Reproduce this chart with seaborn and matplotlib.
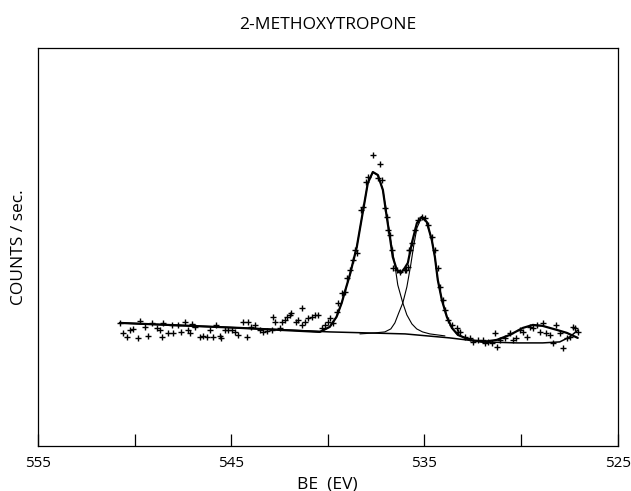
import numpy as np
import pandas as pd
import seaborn as sns
import matplotlib
matplotlib.use("Agg")
import matplotlib.pyplot as plt

# measured points (binding energy in eV, counts in arbitrary units)
data_be = [
    550.76, 550.59, 550.41, 550.24, 550.07, 549.81, 549.72, 549.46, 549.29, 549.12,
    548.86, 548.69, 548.60, 548.52, 548.26, 548.00, 548.08, 547.74, 547.57, 547.40,
    547.22, 547.14, 547.05, 546.88, 546.62, 546.45, 546.27, 546.10, 545.93, 545.76,
    545.59, 545.50, 545.33, 545.16, 544.98, 544.81, 544.64,
    544.38, 544.12, 544.20, 543.95, 543.77, 543.52, 543.35, 543.17, 542.91, 542.83,
    542.74, 542.48, 542.39, 542.22, 542.13, 541.96, 541.88, 541.62, 541.53, 541.36,
    541.36, 541.19, 541.02, 540.84, 540.67, 540.50, 540.32, 540.15, 539.98, 539.90,
    539.72, 539.55, 539.47, 539.29, 539.12, 539.03, 538.86, 538.69, 538.51,
    538.60, 538.26, 538.17, 538.00, 537.91, 537.65, 537.31, 537.40, 537.22, 537.05,
    536.96, 536.88, 536.79, 536.70, 536.62, 536.44, 536.27, 536.02, 535.84, 535.79,
    535.93, 535.76, 535.67, 535.50, 535.33, 535.15, 534.98, 534.81, 534.63, 534.46,
    534.29, 534.20, 534.03, 533.95, 533.78, 533.60, 533.34, 533.26,
    533.17, 532.91, 532.65, 532.48, 532.22, 531.96, 531.88, 531.71, 531.53, 531.36,
    531.27, 531.10, 530.84, 530.58, 530.41, 530.24, 530.07, 529.90, 529.72, 529.55,
    529.38, 529.20, 529.03, 528.86, 528.69, 528.51, 528.34, 528.17, 528.00, 527.83,
    527.65, 527.48, 527.31, 527.22, 527.05,
]
data_counts = [
    122.7, 112.7, 109.3, 116.0, 116.7, 107.7, 125.3, 119.3, 110.0, 122.7,
    117.7, 116.0, 109.3, 123.3, 113.3, 113.3, 121.0, 121.0, 114.3, 123.7,
    116.0, 112.7, 121.7, 119.3, 109.3, 110.0, 109.3, 116.0, 109.3, 121.0,
    110.0, 107.7, 116.0, 116.0, 116.0, 114.3, 111.0,
    124.3, 124.3, 109.3, 119.3, 121.0, 116.0, 114.3, 115.3, 116.0, 129.3,
    124.3, 117.7, 124.3, 126.0, 129.3, 131.0, 132.7, 124.3, 126.0, 137.7,
    121.0, 124.3, 127.7, 129.3, 131.0, 131.0, 117.7, 121.0, 124.3, 127.7,
    122.7, 134.3, 142.7, 152.7, 154.3, 167.7, 176.0, 186.0, 192.7,
    196.0, 236.0, 239.3, 264.3, 269.3, 291.0, 282.0, 267.7, 266.0, 237.7,
    229.3, 216.0, 211.0, 196.0, 177.7, 176.0, 174.3, 176.0, 179.3, 196.0,
    176.0, 196.0, 202.7, 216.0, 226.0, 229.3, 227.7, 221.0, 209.3, 196.0,
    177.7, 159.3, 146.0, 136.0, 126.0, 121.0, 117.7, 114.3,
    114.3, 109.3, 107.7, 104.3, 106.0, 106.0, 102.7, 104.3, 102.7, 112.7,
    99.3, 106.0, 107.7, 112.7, 106.0, 107.7, 116.0, 114.3, 109.3, 119.3,
    117.7, 121.0, 114.3, 122.7, 112.7, 111.0, 102.7, 121.0, 112.7, 97.7,
    107.7, 109.3, 119.3, 117.7, 114.3,
]

# fitted envelope
fit_be = [
    550.76, 544.55, 541.45, 540.41, 539.90, 539.55, 539.28, 539.12, 538.86, 538.50,
    538.17, 537.93, 537.67, 537.41, 537.15, 536.95, 536.79, 536.64, 536.43, 536.22,
    536.02, 535.86, 535.65, 535.39, 535.14, 534.88, 534.62, 534.46, 534.31, 534.10,
    533.84, 533.58, 533.27, 532.65, 531.98, 531.26, 530.58, 529.91, 529.39, 528.88,
    528.15, 527.63, 527.07,
]
fit_counts = [
    123, 118, 115, 114, 119, 129, 143, 154, 171, 199,
    236, 263, 274, 271, 256, 229, 209, 189, 176, 173,
    178, 183, 203, 223, 229, 224, 206, 189, 166, 146,
    129, 118, 111, 106, 104, 106, 111, 118, 121, 120,
    116, 113, 108,
]

# first component (higher BE peak)
comp1_be = [
    541.45, 540.41, 539.90, 539.55, 539.28, 539.12, 538.86, 538.50, 538.17, 537.93,
    537.67, 537.41, 537.15, 536.95, 536.79, 536.53, 536.38, 536.12, 535.91, 535.65,
    535.40, 535.10, 534.72, 533.94,
]
comp1_counts = [
    115, 114, 119, 129, 143, 154, 171, 199, 236, 263,
    274, 271, 256, 231, 211, 181, 161, 143, 131, 122,
    117, 114, 112, 110,
]

# second component (lower BE peak)
comp2_be = [
    538.34, 537.57, 537.05, 536.74, 536.53, 536.33, 536.12, 535.91, 535.71, 535.55,
    535.39, 535.14, 534.88, 534.62, 534.46, 534.31, 534.10, 533.84, 533.58, 533.27,
    532.65,
]
comp2_counts = [
    112, 113, 114, 117, 123, 133, 143, 159, 181, 201,
    218, 229, 224, 206, 189, 166, 146, 129, 118, 111,
    106,
]

# background line
base_be = [550.76, 544.55, 539.90, 536.00, 533.69, 531.98, 530.22, 528.88, 528.00, 527.48, 527.05]
base_counts = [123, 118, 114, 112, 108, 104, 103, 103, 104, 109, 116]

sns.set_style("white")
plt.rcParams["font.family"] = ["Open Sans", "DejaVu Sans"]
plt.rcParams["text.color"] = "black"
plt.rcParams["axes.labelcolor"] = "black"
plt.rcParams["xtick.color"] = "black"

fig = plt.figure(figsize=(6.31, 4.91), dpi=100)
ax = fig.add_axes([0.060, 0.092, 0.919, 0.810])

pts = pd.DataFrame({"BE": data_be, "counts": data_counts})
sns.scatterplot(data=pts, x="BE", y="counts", marker="+", s=16, color="black",
                linewidth=1.0, ax=ax)

sns.lineplot(x=base_be, y=base_counts, color="black", linewidth=1.1, sort=False, ax=ax)
sns.lineplot(x=comp1_be, y=comp1_counts, color="black", linewidth=0.8, sort=False, ax=ax)
sns.lineplot(x=comp2_be, y=comp2_counts, color="black", linewidth=0.8, sort=False, ax=ax)
sns.lineplot(x=fit_be, y=fit_counts, color="black", linewidth=1.6, sort=False, ax=ax)

ax.set_xlim(555, 525)
ax.set_ylim(0, 398)
ax.set_xticks([555, 545, 535, 525])
ax.set_xticks([550, 540, 530], minor=True)
ax.set_yticks([])
ax.tick_params(axis="x", which="both", direction="in", length=9, width=0.9,
               labelsize=11, pad=7, bottom=True, top=False)
for sp in ax.spines.values():
    sp.set_linewidth(0.9)
    sp.set_color("black")

ax.set_xlabel("BE  (EV)", fontsize=12.5, labelpad=4)
ax.set_ylabel("COUNTS / sec.", fontsize=12.5, labelpad=8)
ax.set_title("2-METHOXYTROPONE", fontsize=12.5, pad=14)

fig.savefig("out.png", dpi=100)
